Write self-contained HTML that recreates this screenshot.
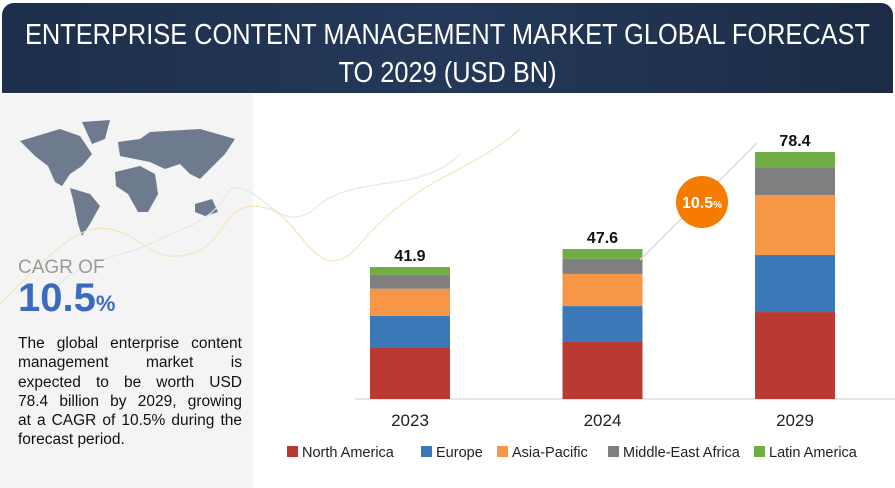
<!DOCTYPE html>
<html><head><meta charset="utf-8"><style>
body{margin:0;width:895px;height:488px;overflow:hidden;background:#fff;font-family:"Liberation Sans",sans-serif;position:relative}
#hdr{position:absolute;left:2px;top:3px;width:891px;height:90px;background:linear-gradient(90deg,#1d2f4a,#24385a 50%,#1c2c45);border-radius:12px 12px 0 0;overflow:hidden}
#hdr div{position:absolute;left:-60px;width:1011px;top:13px;color:#fff;text-align:center;font-size:29px;line-height:38px;white-space:nowrap;transform:scaleX(0.875);transform-origin:center}
#left{position:absolute;left:0;top:94px;width:253px;height:394px;background:#f4f4f4}
#cagr{position:absolute;left:18px;color:#9a9a9a;font-size:19px}
#cagrv{position:absolute;left:18px;color:#3a6bbf;font-size:40px;font-weight:bold}
#desc{position:absolute;left:18px;width:224px;font-size:15.5px;line-height:19.3px;color:#111}
#desc div{text-align:justify;text-align-last:justify;white-space:nowrap}
#desc div.last{text-align-last:left}
</style></head><body>
<div id="hdr"><div>ENTERPRISE CONTENT MANAGEMENT MARKET GLOBAL FORECAST<br>TO 2029 (USD BN)</div></div>
<div id="left">
<svg width="253" height="200" style="position:absolute;left:0;top:0">
<g fill="#6e7b8e">
<path d="M20 47 L60 35 L80 42 L92 60 L82 72 L70 80 L62 92 L55 88 L48 72 L35 62 Z"/>
<path d="M82 28 L110 26 L105 45 L92 50 Z"/>
<path d="M70 94 L90 100 L100 112 L90 130 L82 142 L78 130 L74 110 Z"/>
<path d="M118 48 L140 45 L150 38 L200 35 L235 45 L225 60 L210 75 L200 85 L190 80 L180 70 L165 75 L150 68 L135 65 L120 62 Z"/>
<path d="M115 78 L140 72 L155 80 L158 100 L148 118 L138 118 L128 100 L116 92 Z"/>
<path d="M195 110 L212 105 L218 118 L205 122 L195 118 Z"/>
</g></svg>
<svg width="640" height="300" style="position:absolute;left:0;top:0">
<path d="M0 210 C60 150,80 130,110 135 C150 145,150 170,190 160 C230 150,220 100,270 115 C300 125,320 200,360 150 C420 80,470 80,520 35" stroke="#f6e4bb" fill="none" stroke-width="1.2"/>
<path d="M40 210 C80 160,120 165,150 150 C190 130,210 130,230 95 C260 85,280 150,320 110 C360 80,420 100,460 60" stroke="#e6e6e6" fill="none" stroke-width="1.2"/>
</svg>
<div id="cagr" style="top:163px">CAGR OF</div>
<div id="cagrv" style="top:182px">10.5<span style="font-size:22px">%</span></div>
<div id="desc" style="top:240px"><div>The global enterprise content</div><div>management market is</div><div>expected to be worth USD</div><div>78.4 billion by 2029, growing</div><div>at a CAGR of 10.5% during the</div><div class="last">forecast period.</div></div>
</div>
<svg id="chart" width="895" height="488" style="position:absolute;left:0;top:0"></svg>
<script>
const years=["2023","2024","2029"];
const seriesNames=["North America","Europe","Asia-Pacific","Middle-East Africa","Latin America"];
const northAmerica=[16.2,18.1,27.6];
const europe=[10.2,11.4,18.1];
const asiaPacific=[8.6,10.2,19.0];
const middleEastAfrica=[4.4,4.8,8.9];
const latinAmerica=[2.5,3.1,4.8];
const totals=["41.9","47.6","78.4"];
const colors=["#b83a32","#3a78b8","#f79646","#7f7f7f","#70ad47"];
const series=[northAmerica,europe,asiaPacific,middleEastAfrica,latinAmerica];
const NS="http://www.w3.org/2000/svg";
const svg=document.getElementById('chart');
const base=399,scale=3.15,bw=80;
const xPos=i=>370+i*192.5;
const y=v=>base-v*scale;
function mk(t,a){const e=document.createElementNS(NS,t);for(const k in a)e.setAttribute(k,a[k]);svg.appendChild(e);return e;}
const ax=mk('line',{x1:355,x2:895,y1:base,y2:base,stroke:'#ccc'});


years.forEach((yr,i)=>{
 let cum=0;
 series.forEach((s,j)=>{
  const r=mk('rect',{x:xPos(i),y:y(cum+s[i]),width:bw,height:s[i]*scale,fill:colors[j]});
  
  
  cum+=s[i];
 });
 const t=mk('text',{x:xPos(i)+bw/2,y:y(cum)-6,'text-anchor':'middle','font-size':16,'font-weight':'bold',fill:'#111'});
 t.textContent=totals[i];
 
 
 const l=mk('text',{x:xPos(i)+bw/2,y:base+27,'text-anchor':'middle','font-size':17,fill:'#222'});
 l.textContent=yr;
 
 
});
const ar=mk('line',{x1:640,y1:260,x2:757,y2:143,stroke:'#ddd','stroke-width':1.5});


const c=mk('circle',{cx:702,cy:202,r:26,fill:'#f57c00'});


const ct=mk('text',{x:702,y:208,'text-anchor':'middle','font-size':16,'font-weight':'bold',fill:'#fff'});
ct.innerHTML='10.5<tspan font-size="10">%</tspan>';


const lx=[287,421,497,608,754];
seriesNames.forEach((n,j)=>{
 const r=mk('rect',{x:lx[j],y:446,width:11,height:11,fill:colors[j]});
 
 
 const t=mk('text',{x:lx[j]+15,y:457,'font-size':14.5,fill:'#222'});
 t.textContent=n;
 
 
});
</script>
</body></html>
